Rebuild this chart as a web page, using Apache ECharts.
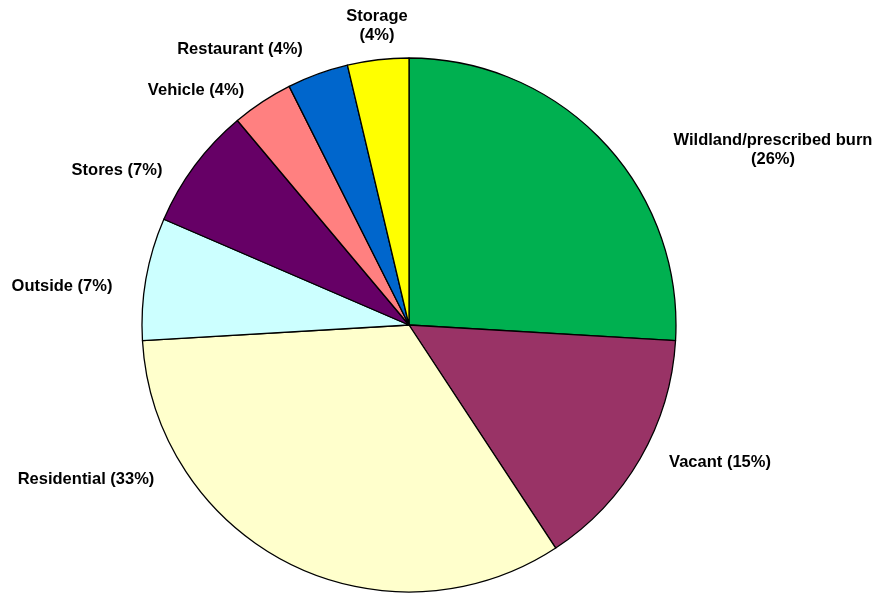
<!DOCTYPE html>
<html>
<head>
<meta charset="utf-8">
<title>Fire incidents by property type</title>
<script src="https://cdn.jsdelivr.net/npm/echarts@6/dist/echarts.min.js"></script>
<style>
  html, body { margin: 0; padding: 0; background: #ffffff; }
  #chart { width: 880px; height: 593px; }
</style>
</head>
<body>
<div id="chart"></div>
<script>
// Property types, clockwise from 12 o'clock
const categories = [
  'Wildland/prescribed burn',
  'Vacant',
  'Residential',
  'Outside',
  'Stores',
  'Vehicle',
  'Restaurant',
  'Storage'
];
// Number of incidents per property type (27 in total)
const incidents = [7, 4, 9, 2, 2, 1, 1, 1];
// Labels that break onto a second line before the percentage
const wrappedLabels = ['Wildland/prescribed burn', 'Storage'];

const sliceColors = ['#00B050', '#993366', '#FFFFCC', '#CCFFFF', '#660066', '#FF8080', '#0066CC', '#FFFF00'];

// Label anchor points (text centre), in pixels
const labelAnchors = [
  [773, 150], [720, 462], [86, 479], [62, 286],
  [117, 170], [196, 90], [240, 49], [377, 26]
];

const chart = echarts.init(document.getElementById('chart'));

chart.setOption({
  animation: false,
  backgroundColor: '#ffffff',
  series: [{
    type: 'pie',
    center: [409, 325],
    radius: 267,
    startAngle: 90,
    clockwise: true,
    silent: true,
    percentPrecision: 0,
    data: categories.map((name, i) => ({
      name: name,
      value: incidents[i],
      itemStyle: { color: sliceColors[i] }
    })),
    itemStyle: { borderColor: '#000000', borderWidth: 1.3 },
    label: {
      show: true,
      position: 'outside',
      color: '#000000',
      fontFamily: 'Liberation Sans, Arial, sans-serif',
      fontWeight: 'bold',
      fontSize: 16.5,
      lineHeight: 19,
      align: 'center',
      overflow: 'none',
      formatter: function (p) {
        const sep = wrappedLabels.indexOf(p.name) >= 0 ? '\n' : ' ';
        return p.name + sep + '(' + p.percent + '%)';
      }
    },
    labelLine: { show: false },
    labelLayout: function (params) {
      const p = labelAnchors[params.dataIndex];
      return { x: p[0], y: p[1], align: 'center', verticalAlign: 'middle' };
    }
  }]
});
</script>
</body>
</html>
